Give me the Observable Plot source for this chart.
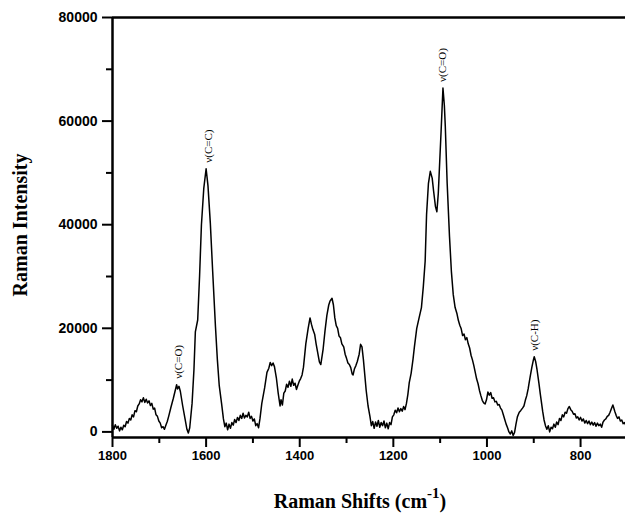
<!DOCTYPE html>
<html><head><meta charset="utf-8">
<script src="https://cdn.jsdelivr.net/npm/d3@7"></script>
<script src="https://cdn.jsdelivr.net/npm/@observablehq/plot@0.6"></script>
<style>
body{margin:0;background:#fff;}
#chart{width:625px;height:514px;overflow:hidden;}
</style></head><body><div id="chart"></div>
<script>
const shifts = [
1800,1797,1794,1791,1788,1785,1782,1779,1776,1773,
1770,1767,1764,1761,1758,1755,1752,1749,1746,1743,
1740,1737,1734,1731,1728,1725,1722,1719,1716,1713,
1710,1707,1704,1701,1698,1695,1692,1689,1686,1683,
1680,1675,1670,1666,1663,1661,1658,1655,1650,1645,
1641,1638,1635,1630,1626,1623,1618,1614,1610,1605,
1600,1596,1591,1586,1580,1576,1572,1567,1563,1560,
1557,1554,1551,1548,1545,1542,1539,1536,1533,1530,
1527,1524,1521,1518,1515,1512,1509,1506,1503,1500,
1497,1494,1491,1488,1485,1481,1475,1470,1466,1463,
1460,1457,1454,1450,1446,1442,1440,1437,1434,1431,
1428,1425,1422,1419,1416,1413,1410,1407,1404,1401,
1398,1395,1392,1387,1382,1378,1375,1372,1368,1365,
1362,1358,1355,1350,1346,1342,1338,1335,1331,1328,
1325,1322,1319,1316,1313,1310,1306,1303,1300,1297,
1294,1291,1288,1286,1283,1280,1277,1273,1270,1267,
1264,1261,1258,1254,1250,1247,1244,1241,1238,1235,
1232,1229,1226,1223,1220,1217,1214,1211,1208,1205,
1202,1199,1196,1193,1190,1187,1184,1181,1178,1175,
1172,1169,1166,1162,1158,1155,1150,1145,1140,1136,
1132,1129,1125,1121,1117,1114,1110,1107,1104,1101,
1098,1094,1091,1089,1085,1080,1076,1072,1068,1064,
1061,1058,1055,1052,1049,1046,1043,1040,1037,1034,
1031,1028,1025,1022,1019,1016,1013,1010,1007,1004,
1001,998,995,992,989,986,983,980,977,974,
971,968,965,962,959,956,953,950,947,944,
941,938,935,931,928,924,921,918,915,912,
910,907,904,901,899,896,893,889,886,884,
881,878,875,872,869,866,863,860,857,854,
851,848,845,842,839,836,833,830,827,824,
821,818,815,812,809,806,803,800,797,794,
791,788,785,782,779,776,773,770,767,764,
761,758,755,752,749,746,743,740,737,734,
731,729,727,724,721,718,715,712,709,706,704];
const intensity = [
1300,500,1400,700,1100,200,900,400,1300,1000,
2000,1700,2600,2300,3300,2900,4100,3900,5000,5400,
6200,5800,6600,5700,6300,5600,6000,5100,5500,4400,
4600,3300,3000,2100,1700,800,1000,500,1300,2000,
3000,4800,6500,8000,9100,8300,8800,7800,5000,2500,
500,-200,800,5500,12000,19300,21600,30000,40000,47000,
50800,47500,40300,31000,20300,14000,9000,5500,2500,1000,
1700,400,1500,700,1800,1300,2400,1800,2800,2200,
3200,2600,3600,2700,3200,2900,3800,2600,3000,2100,
2500,1200,1600,800,2500,5500,8500,11500,12300,13400,
12800,13300,12600,10500,7500,5000,6200,5200,7500,7900,
9200,8600,9800,8800,10200,9000,9400,8200,9000,9800,
10300,11000,12500,17000,20000,22000,20800,19800,18800,17000,
15500,13500,13000,16000,19500,22500,24500,25300,25800,24500,
22000,20500,20000,18500,18200,17000,16400,15000,14200,13300,
13000,12400,11200,11000,12200,12800,13600,15000,16900,16400,
14000,11000,8000,5000,3000,1200,2000,700,1900,1100,
2200,900,1800,1200,2100,800,1700,600,1800,1400,
2900,3300,4200,3700,4600,3900,4500,4000,4900,4300,
5500,7200,9500,11300,14000,16400,20000,22000,24000,28000,
33000,42000,48000,50300,49000,46500,43500,42500,46000,52000,
58000,66400,63000,59000,48000,37700,31000,26500,24000,22800,
21500,20600,19900,18600,18900,17800,18200,17000,16200,14800,
13900,12800,11500,10200,9300,8000,7000,6100,5600,5400,
6200,7700,7100,7600,6500,6600,5800,5900,5200,5300,
4600,4200,3300,2400,1500,800,0,-400,200,-700,
-100,1500,2900,3800,4100,4600,5000,6100,7000,8300,
9400,11000,12500,13800,14500,13600,12000,9400,7300,6000,
4000,2300,1200,500,1200,0,900,600,1500,900,
1900,1400,2600,2200,3300,2900,3800,3600,4500,4900,
4300,4000,3400,3500,2700,2900,2300,2800,2100,2500,
1700,2200,1600,2100,1400,1900,1300,1800,1100,1700,
1200,1500,900,1900,2300,2500,3000,3200,3800,4500,
5200,4600,4000,3200,2600,2900,2100,2300,1600,1800,1400];
const xDomain = [1800, 704];
const yDomain = [-1080, 80000];
const xTicks = [1800, 1600, 1400, 1200, 1000, 800];
const xMinor = [1700, 1500, 1300, 1100, 900];
const yTicks = [0, 20000, 40000, 60000, 80000];
const yMinor = [10000, 30000, 50000, 70000];
const peakLabels = ["ν(C=O)", "ν(C=C)", "ν(C=O)", "ν(C-H)"];
const peakShifts = [1658, 1596, 1094, 898];
const peakIntensity = [9100, 50800, 66400, 14500];
const xTitle = "Raman Shifts (cm";
const xTitleSup = "-1";
const yTitle = "Raman Intensity";

const data = shifts.map((s, i) => ({shift: s, intensity: intensity[i]}));
const peaks = peakLabels.map((t, i) => ({label: t, shift: peakShifts[i], intensity: peakIntensity[i]}));

const chart = Plot.plot({
  width: 625,
  height: 514,
  marginLeft: 112,
  marginRight: 0,
  marginTop: 17,
  marginBottom: 77,
  style: {fontFamily: "'Liberation Sans', Arial, sans-serif", fontSize: "13px", fontWeight: "bold", background: "#fff", color: "#000", overflow: "visible"},
  x: {domain: xDomain, axis: null},
  y: {domain: yDomain, axis: null},
  marks: [
    Plot.line(data, {x: "shift", y: "intensity", stroke: "#000", strokeWidth: 1.5, curve: "linear"}),
    Plot.text(peaks, {x: "shift", y: "intensity", text: "label", rotate: -90, textAnchor: "start", lineAnchor: "middle", dy: -6, fontFamily: "'Liberation Serif', 'Times New Roman', serif", fontSize: 11, fontWeight: "normal", fill: "#000"}),
    Plot.axisX(xTicks, {tickSize: 10, tickPadding: 3, strokeWidth: 2, tickFormat: d3.format("d"), label: null, fontSize: 13, fontWeight: "bold"}),
    Plot.axisX(xMinor, {tickSize: 6, strokeWidth: 2, tickFormat: () => "", label: null}),
    Plot.axisY(yTicks, {tickSize: 10, tickPadding: 5, strokeWidth: 2, tickFormat: d3.format("d"), label: null, fontSize: 14, fontWeight: "bold"}),
    Plot.axisY(yMinor, {tickSize: 6, strokeWidth: 2, tickFormat: () => "", label: null}),
    Plot.ruleY([yDomain[0], yDomain[1]], {stroke: "#000", strokeWidth: 2.5}),
    Plot.ruleX([xDomain[0]], {stroke: "#000", strokeWidth: 2.5})
  ]
});

const svg = d3.select(chart);
svg.append("text")
  .attr("transform", "translate(26.5,225) rotate(-90)")
  .attr("text-anchor", "middle")
  .style("font-family", "'Liberation Serif', 'Times New Roman', serif")
  .style("font-size", "20px")
  .style("font-weight", "bold")
  .text(yTitle);
const xt = svg.append("text")
  .attr("x", 360).attr("y", 508)
  .attr("text-anchor", "middle")
  .style("font-family", "'Liberation Serif', 'Times New Roman', serif")
  .style("font-size", "20px")
  .style("font-weight", "bold");
xt.append("tspan").text(xTitle);
xt.append("tspan").attr("dy", -10).style("font-size", "15px").text(xTitleSup);
xt.append("tspan").attr("dy", 10).text(")");

document.getElementById("chart").appendChild(chart);
</script>
</body></html>
